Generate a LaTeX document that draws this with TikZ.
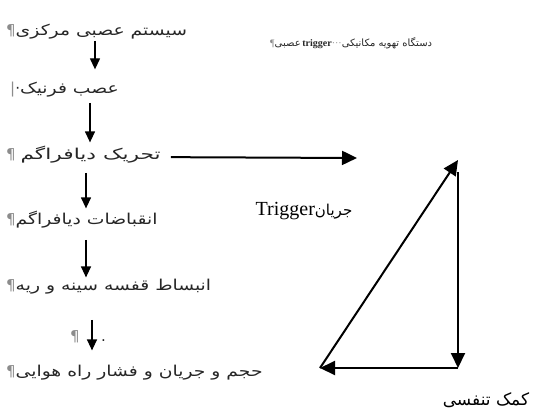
\documentclass[tikz,border=0pt]{standalone}
\usepackage{fontspec}
\setmainfont{Liberation Serif}
\newfontfamily\farsi[Script=Arabic]{DejaVu Sans}
\usetikzlibrary{arrows.meta}
\TeXXeTstate=1
\definecolor{pilgray}{HTML}{8C8C8C}
\definecolor{ink}{HTML}{262626}
\newcommand{\fa}[1]{{\farsi\beginR #1\endR}}
\newcommand{\wfa}[2][1.25]{\scalebox{#1}[1]{\fa{#2}}}
\newcommand{\pil}{{\color{pilgray}¶}}

\tikzset{
  stage/.style={anchor=base west, inner sep=0pt, text=ink,
    font=\farsi\fontsize{15}{17}\selectfont},
  flow/.style={-{Triangle[length=11pt,width=10pt]}, line width=1.3pt},
  bigflow/.style={-{Triangle[length=15pt,width=14pt]}, line width=2pt},
  label/.style={anchor=base, inner sep=0pt}
}

\begin{document}
\begin{tikzpicture}[x=1pt,y=-1pt]
\useasboundingbox (0,0) rectangle (546,413);

% left column
\node[stage] (cns) at (6,35) {\pil\wfa{سیستم عصبی مرکزی}};
\node[stage] (phr) at (10,93) {{\color{pilgray}|}·\wfa{عصب فرنیک}};
\node[stage] (diaph) at (6,159) {\pil\ \wfa[1.45]{تحریک دیافراگم}};
\node[stage] (contr) at (6,224) {\pil\wfa{انقباضات دیافراگم}};
\node[stage] (chest) at (6,290) {\pil\wfa{انبساط قفسه سینه و ریه}};
\node[stage] (pmark) at (70,341) {\pil};
\node[stage] (dot) at (101,341) {.};
\node[stage] (airway) at (6,376) {\pil\wfa{حجم و جریان و فشار راه هوایی}};

% top right
\node[anchor=base west, inner sep=0pt, text=ink, font=\fontsize{10}{11}\selectfont]
  (vent) at (270,46) {\pil\fa{عصبی}\,\textbf{trigger}{\color{pilgray}···}\fa{دستگاه تهویه مکانیکی}};

% labels
\node[label, font=\fontsize{20}{22}\selectfont] (trglbl) at (304,215)
  {Trigger{\farsi\fontsize{15}{17}\selectfont\beginR جریان\endR}};
\node[label, font=\farsi\fontsize{17}{19}\selectfont] (assist) at (486,405)
  {\fa{کمک تنفسی}};

% arrows
\draw[flow, shorten <=2pt, shorten >=12pt] ([xshift=89pt]cns.south west) -- ([xshift=89pt]cns.south west |- phr.north);
\draw[flow, shorten <=6pt, shorten >=3pt] ([xshift=80pt]phr.south west) -- ([xshift=80pt]phr.south west |- diaph.north);
\draw[flow, shorten <=10pt, shorten >=2pt] ([xshift=80pt]diaph.south west) -- ([xshift=80pt]diaph.south west |- contr.north);
\draw[flow, shorten <=12pt, shorten >=1pt] ([xshift=80pt]contr.south west) -- ([xshift=80pt]contr.south west |- chest.north);
\draw[flow, shorten <=26pt, shorten >=14pt] ([xshift=86pt]chest.south west) -- ([xshift=86pt]chest.south west |- airway.north);

\coordinate (trig) at (357,158);
\draw[bigflow, shorten <=10pt] ([yshift=-3pt]diaph.east) -- (trig);

% triangle
\coordinate (apex) at (458,160);
\coordinate (corner) at (458,368);
\coordinate (foot) at (320,368);
\draw[bigflow] (foot) -- (apex);
\draw[bigflow, shorten <=12pt] (apex) -- (corner);
\draw[bigflow] (corner) -- (foot);
\end{tikzpicture}
\end{document}
